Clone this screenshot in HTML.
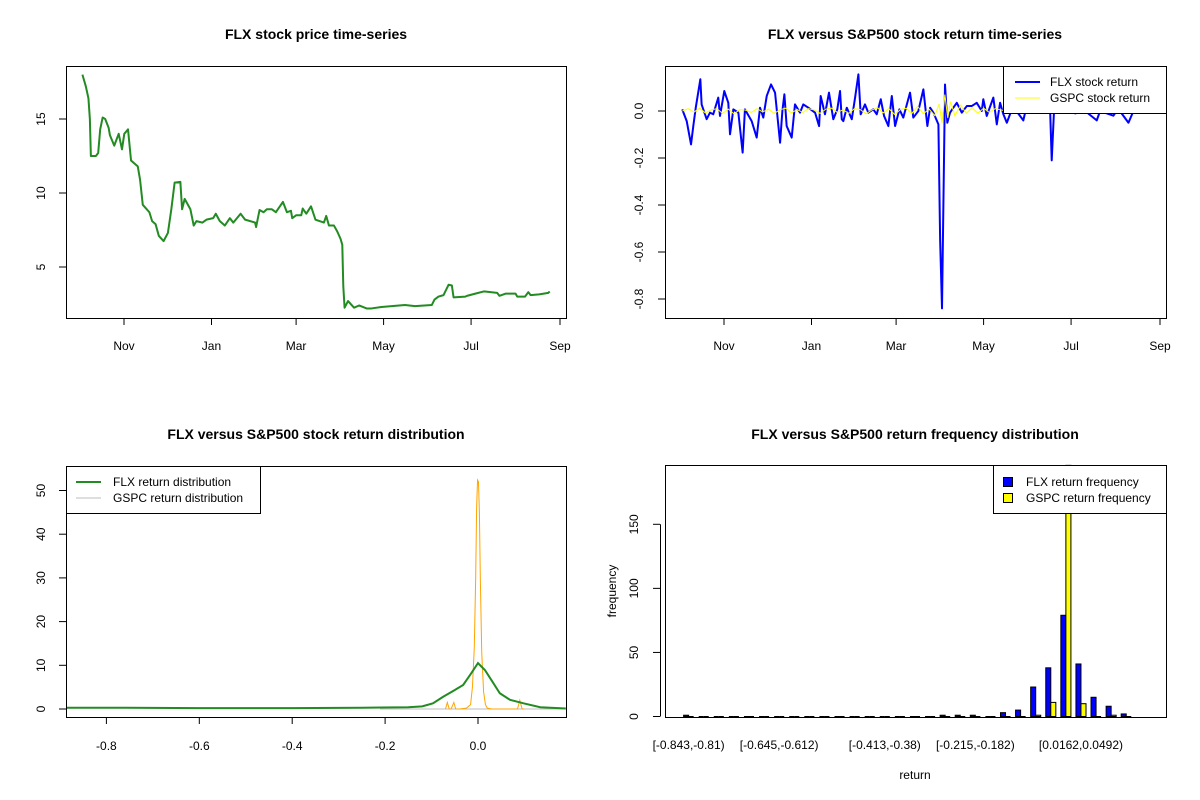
<!DOCTYPE html>
<html><head><meta charset="utf-8"><style>
body{margin:0;background:#fff;}
svg{display:block;font-family:"Liberation Sans",Arial,sans-serif;}
</style></head><body>
<svg id="c" width="1200" height="800" xmlns="http://www.w3.org/2000/svg"></svg>
<script>
// ---------- data ----------
const priceDays=[2.0,4.4,6.2,7.2,7.9,11.4,13,14.4,16.1,17.9,20.3,21.2,24.2,27.3,29.6,31.2,33.8,35.9,40.6,42.2,44.1,48.7,50.6,53,55.3,58.6,61.6,64,66.3,70.3,71.5,73.3,77.3,79.6,81.5,85.7,88.5,93.2,95,97.8,101.3,104.8,107.2,112.3,115.4,122.4,123.1,125.5,128.3,130.6,134.1,136.9,141.8,144.6,147.4,148.3,151.1,154.6,155.6,158.1,161.4,164.5,170.4,172,173.9,177.4,179.7,182,183.2,183.9,184.8,187.2,191.4,194.9,200.2,203.5,210.5,226.9,233.9,245.6,247.5,250.3,253.8,257.3,259.6,260.8,269,270.1,276,281.9,291.2,292.8,297,304,305.2,310.6,312.9,314.5,320.4,326.9,327.8];
const priceVals=[18.0,17.2,16.4,15.0,12.5,12.5,12.7,14.3,15.1,15.0,14.4,13.9,13.2,14.0,12.95,14.0,14.3,12.2,11.8,10.9,9.2,8.7,8.1,7.9,7.1,6.75,7.3,8.9,10.7,10.75,8.9,9.6,8.9,7.8,8.1,8.0,8.2,8.3,8.6,8.1,7.8,8.3,8.0,8.6,8.2,8.0,7.7,8.85,8.7,8.9,8.9,8.7,9.4,8.7,8.8,8.3,8.5,8.5,8.95,8.6,9.1,8.2,8.0,8.45,7.8,7.8,7.4,6.9,6.5,3.7,2.25,2.7,2.25,2.4,2.2,2.2,2.3,2.43,2.36,2.43,2.8,3.0,3.1,3.8,3.75,2.95,3.0,3.05,3.2,3.35,3.25,3.05,3.2,3.2,3.0,3.0,3.3,3.1,3.15,3.25,3.35];
const retDays=[1.9,5.0,8.0,9.6,11.3,14.5,15.4,18.9,21.2,23.5,27.0,28.2,31.2,34.0,35.2,37.5,41.0,44.0,45.6,50.3,53.8,56.1,58.4,60.8,63.8,66.6,70.1,71.7,73.1,74.7,78.2,80.5,84.0,86.3,89.8,94.5,97.3,98.4,101.4,104.2,107.2,110.0,111.9,113.1,114.2,116.6,120.1,122.4,124.7,126.3,129.3,131.6,135.1,137.5,140.3,142.6,145.6,148.0,150.3,153.3,156.0,160.7,163.0,166.5,170.0,172.8,174.7,177.0,180.5,181.7,183.0,185.1,186.7,188.6,190.9,193.3,196.8,200.3,203.7,207.2,210.7,211.8,214.2,218.8,221.2,223.5,225.8,228.2,231.9,236.1,239.7,241.6,247.9,252.8,258.4,259.5,261.1,266.7,275.8,282.8,290.9,293.2,302.5,305.8,313.0,316.5,320.4];
const retVals=[0.007,-0.043,-0.142,-0.064,0.014,0.135,0.028,-0.035,-0.007,-0.014,0.057,-0.021,0.085,0.035,-0.099,0.007,-0.007,-0.177,0.007,-0.043,-0.113,0.014,-0.028,0.064,0.113,0.078,-0.135,0,0.071,-0.064,-0.113,0.028,-0.007,0.028,0.014,-0.007,-0.064,0.064,-0.014,0.078,-0.035,0.007,0.085,-0.035,-0.043,0.014,-0.035,0.057,0.156,-0.014,0.028,-0.007,0.007,-0.014,0.05,-0.021,-0.064,0.064,-0.064,0.007,-0.028,0.078,-0.028,0,0.092,-0.064,0.014,-0.007,-0.057,-0.55,-0.84,0.113,-0.05,-0.007,0.014,0.035,-0.007,0.021,0.021,0.035,0,0.05,-0.021,0.057,-0.057,0.035,-0.014,-0.05,0.01,-0.01,-0.04,0.01,0.0,0.02,0.0,-0.21,0.0,0.01,-0.01,0.0,-0.04,0.0,-0.02,0.01,-0.05,0.0,0.0];
const gDays=[2,6,10,14,18,22,26,30,34,38,42,46,50,54,58,62,66,70,74,78,82,86,90,94,98,102,106,110,114,118,122,126,130,134,138,142,146,150,154,158,162,166,170,174,178,181,183,185,187,189,192,196,200,204,208,212,216,220,224,228];
const gVals=[0,0.01,-0.005,0.012,-0.008,0.005,0.01,-0.01,0.008,-0.012,0.006,0.004,-0.006,0.01,-0.004,0.008,-0.01,0.005,0.012,-0.008,0.006,-0.006,0.01,0.004,-0.01,0.008,0.012,-0.006,0.005,-0.01,0.01,0.006,-0.012,0.004,0.014,-0.008,0.01,-0.015,0.006,0.012,-0.01,0.02,-0.012,0.008,-0.02,0.03,-0.05,0.07,-0.03,0.04,-0.02,0.025,-0.01,0.015,-0.01,0.012,-0.006,0.01,0.005,0];
const monthTicks=["Nov","Jan","Mar","May","Jul","Sep"];
const monthDays=[31,92,151,212,273,335];
const densFlxX=[-0.887,-0.8,-0.6,-0.4,-0.25,-0.15,-0.12,-0.097,-0.075,-0.054,-0.032,-0.017,0,0.015,0.029,0.047,0.069,0.098,0.134,0.189];
const densFlxY=[0.3,0.3,0.2,0.2,0.3,0.4,0.6,1.3,2.8,4.1,5.5,7.8,10.5,8.9,6.6,3.6,2.1,1.3,0.4,0.1];
const densGX=[-0.07,-0.066,-0.062,-0.058,-0.052,-0.048,-0.04,-0.025,-0.016,-0.012,-0.008,-0.005,-0.003,-0.001,0.001,0.003,0.005,0.008,0.012,0.016,0.02,0.03,0.085,0.09,0.095,0.1];
const densGY=[0,1.5,0,0,1.5,0,0,0.2,1,5,14,30,46,52.4,52,45,30,13,4,1,0.2,0,0,2,0,0];
const histFlx=[1,0,0,0,0,0,0,0,0,0,0,0,0,0,0,0,0,1,1,1,0,3,5,23,38,79,41,15,8,2];
const histG=[0,0,0,0,0,0,0,0,0,0,0,0,0,0,0,0,0,0,0,0,0,0,0,1,11,196,10,0,1,0];
const histLabels=["[-0.843,-0.81)","[-0.645,-0.612)","[-0.413,-0.38)","[-0.215,-0.182)","[0.0162,0.0492)"];
const histLabelIdx=[0,6,13,19,26];

// ---------- helpers ----------
const NS="http://www.w3.org/2000/svg";
const svg=document.getElementById('c');
function mk(tag,attrs,parent){const e=document.createElementNS(NS,tag);for(const k in attrs)e.setAttribute(k,attrs[k]);(parent||svg).appendChild(e);return e;}
function txt(s,x,y,size,anchor,rot,weight,parent){const t=mk('text',{x:x,y:y,'font-size':size,'text-anchor':anchor||'middle',fill:'#000'},parent);if(weight)t.setAttribute('font-weight',weight);if(rot)t.setAttribute('transform','rotate(-90 '+x+' '+y+')');t.textContent=s;return t;}
function lin(d0,d1,p0,p1){return v=>p0+(v-d0)*(p1-p0)/(d1-d0);}
function pathD(xs,ys,fx,fy){let d='';for(let i=0;i<Math.min(xs.length,ys.length);i++)d+=(i?'L':'M')+fx(xs[i]).toFixed(2)+','+fy(ys[i]).toFixed(2);return d;}

// ---------- panel 1: price ----------
{
const g=mk('g',{});
const fx=lin(31,335,124,560), fy=lin(0,15,341,119);
let t=txt('FLX stock price time-series',316,39,14,'middle',false,'bold',g);

const b=mk('rect',{x:66.5,y:66.5,width:500,height:252,fill:'none',stroke:'#000'},g);

const p=mk('path',{d:pathD(priceDays,priceVals,fx,fy),fill:'none',stroke:'#228b22','stroke-width':2,'stroke-linejoin':'round'},g);

mk('line',{x1:fx(31),x2:fx(335),y1:318.5,y2:318.5,stroke:'#000'},g);
monthDays.forEach((d,i)=>{mk('line',{x1:fx(d),x2:fx(d),y1:318,y2:325,stroke:'#000'},g);
 const l=txt(monthTicks[i],fx(d),350,12,'middle',false,null,g);
 });
[5,10,15].forEach(v=>{mk('line',{x1:59,x2:66,y1:fy(v),y2:fy(v),stroke:'#000'},g);
 const l=txt(String(v),45,fy(v),12,'middle',true,null,g);
 });
mk('line',{x1:66.5,x2:66.5,y1:fy(5),y2:fy(15),stroke:'#000'},g);
}

// ---------- panel 2: returns ----------
{
const g=mk('g',{});
const fx=lin(31,335,724,1160), fy=lin(0,-0.8,111,299);
let t=txt('FLX versus S&P500 stock return time-series',915,39,14,'middle',false,'bold',g);

const p=mk('path',{d:pathD(retDays,retVals,fx,fy),fill:'none',stroke:'#0000ff','stroke-width':2,'stroke-linejoin':'round'},g);

const q=mk('path',{d:pathD(gDays,gVals,fx,fy),fill:'none',stroke:'#ffff00','stroke-width':1},g);

const b=mk('rect',{x:665.5,y:66.5,width:501,height:252,fill:'none',stroke:'#000'},g);

mk('line',{x1:fx(31),x2:fx(335),y1:318.5,y2:318.5,stroke:'#000'},g);
monthDays.forEach((d,i)=>{mk('line',{x1:fx(d),x2:fx(d),y1:318,y2:325,stroke:'#000'},g);
 const l=txt(monthTicks[i],fx(d),350,12,'middle',false,null,g);
 });
["0.0","-0.2","-0.4","-0.6","-0.8"].forEach(s=>{const v=parseFloat(s);mk('line',{x1:658,x2:665,y1:fy(v),y2:fy(v),stroke:'#000'},g);
 const l=txt(s,643,fy(v),12,'middle',true,null,g);
 });
mk('line',{x1:665.5,x2:665.5,y1:fy(0),y2:fy(-0.8),stroke:'#000'},g);
const lg=mk('g',{},g);
mk('rect',{x:1003.5,y:66.5,width:163,height:47,fill:'#fff',stroke:'#000'},lg);
mk('line',{x1:1015,x2:1040,y1:82,y2:82,stroke:'#0000ff','stroke-width':2},lg);
mk('line',{x1:1015,x2:1040,y1:98,y2:98,stroke:'#ffff00','stroke-width':1},lg);
let a=txt('FLX stock return',1050,86,12,'start',false,null,lg);
a=txt('GSPC stock return',1050,102,12,'start',false,null,lg);
}

// ---------- panel 3: density ----------
{
const g=mk('g',{});
const fx=lin(0,-0.8,478,106.4), fy=lin(0,50,709,490.5);
let t=txt('FLX versus S&P500 stock return distribution',316,439,14,'middle',false,'bold',g);

mk('line',{x1:380,x2:566,y1:fy(0),y2:fy(0),stroke:'#bebebe'},g);
const q=mk('path',{d:pathD(densGX,densGY,fx,fy),fill:'none',stroke:'#ffa500','stroke-width':1},g);

const p=mk('path',{d:pathD(densFlxX,densFlxY,fx,fy),fill:'none',stroke:'#228b22','stroke-width':2},g);

const b=mk('rect',{x:66.5,y:466.5,width:500,height:251,fill:'none',stroke:'#000'},g);

["-0.8","-0.6","-0.4","-0.2","0.0"].forEach(s=>{const v=parseFloat(s);mk('line',{x1:fx(v),x2:fx(v),y1:717,y2:724,stroke:'#000'},g);
 const l=txt(s,fx(v),750,12,'middle',false,null,g);});
mk('line',{x1:fx(-0.8),x2:fx(0),y1:717.5,y2:717.5,stroke:'#000'},g);
[0,10,20,30,40,50].forEach(v=>{mk('line',{x1:59,x2:66,y1:fy(v),y2:fy(v),stroke:'#000'},g);
 const l=txt(String(v),45,fy(v),12,'middle',true,null,g);});
mk('line',{x1:66.5,x2:66.5,y1:fy(0),y2:fy(50),stroke:'#000'},g);
const lg=mk('g',{},g);
mk('rect',{x:66.5,y:466.5,width:194,height:47,fill:'#fff',stroke:'#000'},lg);
mk('line',{x1:76,x2:101,y1:482,y2:482,stroke:'#228b22','stroke-width':2},lg);
mk('line',{x1:76,x2:101,y1:498,y2:498,stroke:'#bebebe','stroke-width':1},lg);
let a=txt('FLX return distribution',113,486,12,'start',false,null,lg);
a=txt('GSPC return distribution',113,502,12,'start',false,null,lg);
}

// ---------- panel 4: histogram ----------
{
const g=mk('g',{});
const fy=lin(0,150,716.5,524.3);
const unit=5.03, x0=683.6;
const gx=i=>x0+3*unit*i;
let t=txt('FLX versus S&P500 return frequency distribution',915,439,14,'middle',false,'bold',g);

function bar(x,v,col,name){
 if(v<=0){const l=mk('line',{x1:x,x2:x+unit,y1:fy(0),y2:fy(0),stroke:'#000'},g);return;}
 const r=mk('rect',{x:x,y:Math.max(fy(v),465),width:unit,height:fy(0)-Math.max(fy(v),465),fill:col,stroke:'#000','stroke-width':1},g);
 }
histFlx.forEach((v,i)=>bar(gx(i),v,'#0000ff','bar-flx'));
histG.forEach((v,i)=>bar(gx(i)+unit,v,'#ffff00','bar-gspc'));
const b=mk('rect',{x:665.5,y:465.5,width:501,height:252,fill:'none',stroke:'#000'},g);

histLabelIdx.forEach((idx,k)=>{const l=txt(histLabels[k],gx(idx)+unit,749,12,'middle',false,null,g);});
[0,50,100,150].forEach(v=>{mk('line',{x1:653,x2:660,y1:fy(v),y2:fy(v),stroke:'#000'},g);
 const l=txt(String(v),638,fy(v),12,'middle',true,null,g);});
mk('line',{x1:660.5,x2:660.5,y1:fy(0),y2:fy(150),stroke:'#000'},g);
let a=txt('frequency',616,591,12,'middle',true,null,g);
a=txt('return',915,779,12,'middle',false,null,g);
const lg=mk('g',{},g);
mk('rect',{x:993.5,y:465.5,width:173,height:48,fill:'#fff',stroke:'#000'},lg);
mk('rect',{x:1003.5,y:477.5,width:9,height:9,fill:'#0000ff',stroke:'#000'},lg);
mk('rect',{x:1003.5,y:493.5,width:9,height:9,fill:'#ffff00',stroke:'#000'},lg);
a=txt('FLX return frequency',1026,486,12,'start',false,null,lg);
a=txt('GSPC return frequency',1026,502,12,'start',false,null,lg);
}
</script>
</body></html>
